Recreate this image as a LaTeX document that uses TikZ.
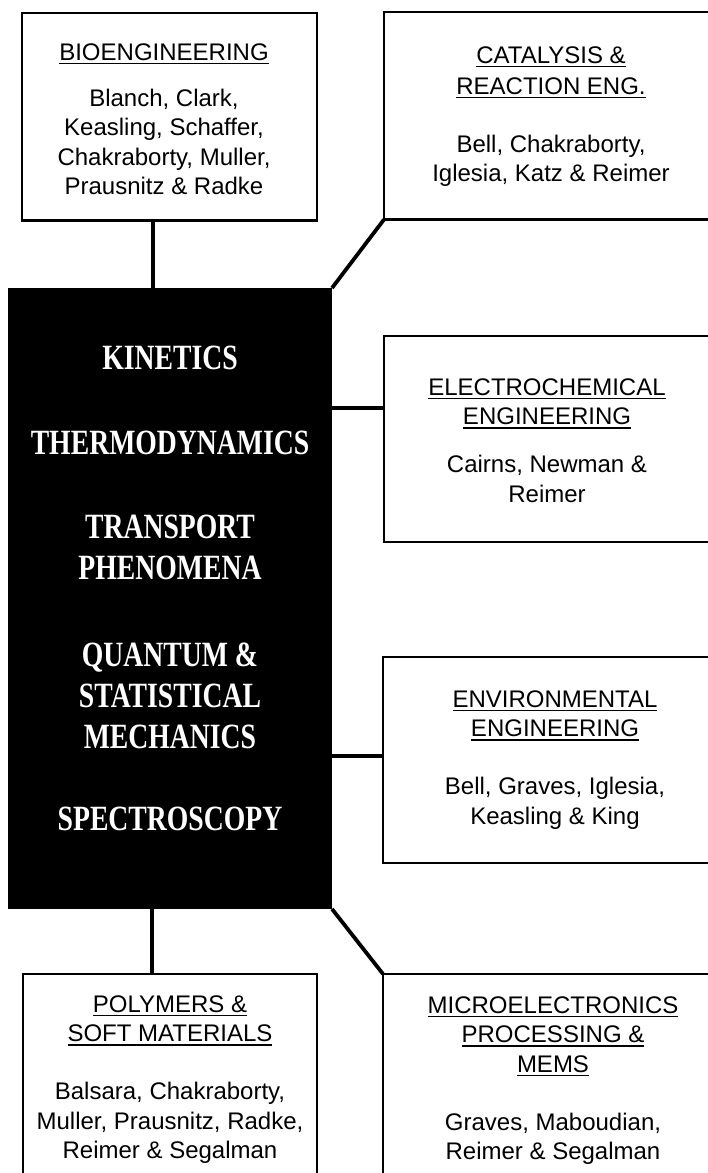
\documentclass[tikz,border=0pt]{standalone}
\usepackage{fontspec}
\setmainfont{Liberation Sans}
\newfontfamily\blk{Liberation Serif}[FakeStretch=0.78]
\newcommand\uln[1]{\setbox0\hbox{#1}\rlap{\vrule height -2.8pt depth 4.2pt width \wd0}\box0}
\newcommand\topst[1]{\rule{0pt}{#1}}
\newcommand\botst[1]{\rule[-#1]{0pt}{#1}}
\newcommand\lft{\kern11pt}
\tikzset{
  areabox/.style={draw=black, line width=2.4pt, inner sep=0pt, outer sep=0pt,
    align=center, anchor=north west, fill=white,
    font=\fontsize{24}{29.5}\selectfont},
  corebox/.style={fill=black, draw=none, inner sep=0pt, outer sep=0pt,
    align=center, anchor=north west, text=white,
    font=\blk\bfseries\fontsize{35.5}{41}\selectfont},
  conn/.style={draw=black, line width=3.8pt}
}
\begin{document}
\begin{tikzpicture}[x=1pt,y=-1pt]
\useasboundingbox (0,0) rectangle (708,1173);
\clip (0,0) rectangle (708,1173);
\fill[white] (0,0) rectangle (708,1173);

% central black box
\node[corebox, minimum width=324pt] (core) at (8,288)
  {\topst{81pt}KINETICS\\[44pt]
   THERMODYNAMICS\\[43pt]
   TRANSPORT\\
   PHENOMENA\\[46pt]
   QUANTUM \&\\
   STATISTICAL\\
   MECHANICS\\[41pt]
   SPECTROSCOPY\botst{79pt}};

% area boxes
\node[areabox, minimum width=295pt] (bio) at (22,13)
  {\topst{47pt}\uln{BIOENGINEERING}\lft\\[16.5pt]
   Blanch, Clark,\lft\\
   Keasling, Schaffer,\lft\\
   Chakraborty, Muller,\lft\\
   Prausnitz \& Radke\lft\botst{26pt}};

\node[areabox, minimum width=334pt] (cat) at (384,12)
  {\topst{51pt}\uln{CATALYSIS \&}\\[1.5pt]
   \uln{REACTION ENG.}\\[28.5pt]
   Bell, Chakraborty,\\
   Iglesia, Katz \& Reimer\botst{38pt}};

\node[areabox, minimum width=326pt] (elec) at (384,336)
  {\topst{59pt}\uln{ELECTROCHEMICAL}\\
   \uln{ENGINEERING}\\[18.5pt]
   Cairns, Newman \&\\
   Reimer\botst{40pt}};

\node[areabox, minimum width=344pt] (env) at (383,657)
  {\topst{50pt}\uln{ENVIRONMENTAL}\\
   \uln{ENGINEERING}\\[28.5pt]
   Bell, Graves, Iglesia,\\
   Keasling \& King\botst{39pt}};

\node[areabox, minimum width=294pt] (poly) at (23,974)
  {\topst{38pt}\uln{POLYMERS \&}\\
   \uln{SOFT MATERIALS}\\[28.5pt]
   Balsara, Chakraborty,\\
   Muller, Prausnitz, Radke,\\
   Reimer \& Segalman\botst{60pt}};

\node[areabox, minimum width=340pt] (micro) at (383,974)
  {\topst{39pt}\uln{MICROELECTRONICS}\\
   \uln{PROCESSING \&}\\
   \uln{MEMS}\\[28.5pt]
   Graves, Maboudian,\\
   Reimer \& Segalman\botst{60pt}};

% connector positions
\coordinate (xbio) at (153,0);
\coordinate (xpoly) at (152,0);
\coordinate (yelec) at (0,408);
\coordinate (yenv) at (0,756);

% connectors
\draw[conn] (bio.south -| xbio) -- (core.north -| xbio);
\draw[conn] (core.north east) -- (cat.south west);
\draw[conn] (core.east |- yelec) -- (elec.west |- yelec);
\draw[conn] (core.east |- yenv) -- (env.west |- yenv);
\draw[conn] (core.south -| xpoly) -- (poly.north -| xpoly);
\draw[conn] (core.south east) -- (micro.north west);
\end{tikzpicture}
\end{document}
